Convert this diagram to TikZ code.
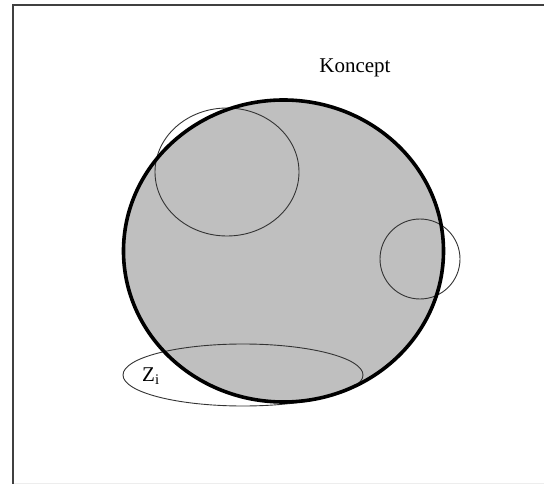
\documentclass[tikz,border=0pt]{standalone}
\usepackage{fontspec}
\setmainfont{Liberation Serif}
\tikzset{
  thinring/.style={draw=black!80,line width=0.9pt},
  conceptring/.style={draw=black,line width=3.6pt}
}
\begin{document}
\begin{tikzpicture}[x=1pt,y=-1pt,every node/.style={font=\fontsize{21}{25}\selectfont,inner sep=0pt}]
  \useasboundingbox (0,0) rectangle (544,484);
  % frame
  \draw[line width=2pt,black!75] (544,5) -- (13,5) -- (13,484);
  \draw[line width=1pt,black!7] (14,483) -- (544,483);
  % concept disc
  \fill[black!25] (283.5,251) ellipse (160 and 151);
  % overlapping sets
  \draw[thinring] (227,172) ellipse (72 and 64);
  \draw[thinring] (420,259) circle (40);
  \draw[thinring] (243,375) ellipse (120 and 31);
  \draw[conceptring] (283.5,251) ellipse (160 and 151);
  % labels
  \node[anchor=base] (koncept) at (355,73) {Koncept};
  \node[anchor=base west] (zi) at (142,381) {Z\textsubscript{i}};
\end{tikzpicture}
\end{document}
